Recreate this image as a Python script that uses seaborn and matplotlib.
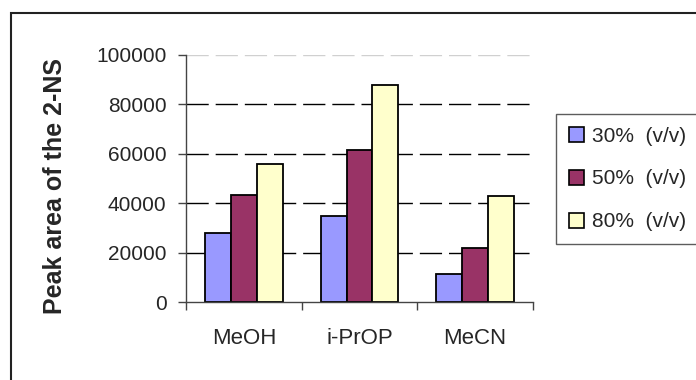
import matplotlib
matplotlib.use("Agg")
import matplotlib.pyplot as plt
import seaborn as sns
import pandas as pd
from matplotlib.patches import Rectangle, Patch

categories = ["MeOH", "i-PrOP", "MeCN"]
series_names = ["30%  (v/v)", "50%  (v/v)", "80%  (v/v)"]
values_30 = [28000, 35000, 11500]
values_50 = [43500, 61500, 21700]
values_80 = [56000, 88000, 43000]
colors = ["#9999FF", "#993366", "#FFFFCC"]
yticks = [0, 20000, 40000, 60000, 80000, 100000]
ytick_labels = ["0", "20000", "40000", "60000", "80000", "100000"]

rows = []
for name, vals in zip(series_names, [values_30, values_50, values_80]):
    for c, v in zip(categories, vals):
        rows.append({"Solvent": c, "Conc": name, "Area": v})
df = pd.DataFrame(rows)

sns.set_theme(style="white")
plt.rcParams["font.family"] = ["Liberation Sans", "DejaVu Sans"]

fig = plt.figure(figsize=(6.96, 3.80), dpi=100)
ax = fig.add_axes([186/696, 1-302/380, (533-186)/696, (302-55)/380])

sns.barplot(data=df, x="Solvent", y="Area", hue="Conc", order=categories,
            hue_order=series_names, palette=colors, width=0.67,
            edgecolor="black", linewidth=1.3, saturation=1, ax=ax,
            legend=False, errorbar=None)

ax.set_xlim(-0.5, 2.5)
ax.set_ylim(0, 100000)
for y in yticks[1:-1]:
    ax.axhline(y, color="black", linewidth=1.0, linestyle=(0, (16, 5)), zorder=0)
ax.axhline(100000, color="#d0d0d0", linewidth=1.0, linestyle=(0, (16, 5)), zorder=0)

ax.set_yticks(yticks)
ax.set_yticklabels(ytick_labels, fontsize=15)
ax.set_xticks(range(len(categories)))
ax.set_xticklabels(categories, fontsize=16)
ax.set_xticks([-0.5, 0.5, 1.5, 2.5], minor=True)
ax.tick_params(axis="x", which="major", length=0, pad=19)
ax.tick_params(axis="x", which="minor", length=6, width=1, color="#444444", direction="out", bottom=True)
ax.tick_params(axis="y", which="major", length=6, width=1, color="#444444", direction="out", left=True, pad=8)
ax.set_xlabel("")
ax.set_ylabel("Peak area of the 2-NS", fontsize=18, fontweight="bold")
ax.yaxis.set_label_coords(-0.343, 0.47)

for s in ["top", "right"]:
    ax.spines[s].set_visible(False)
for s in ["left", "bottom"]:
    ax.spines[s].set_color("#444444")
    ax.spines[s].set_linewidth(1.0)

handles = [Patch(facecolor=c, edgecolor="black", linewidth=1.2) for c in colors]
leg = fig.legend(handles, series_names, loc="upper left",
                 bbox_to_anchor=(556/696, 1-114/380), fontsize=15,
                 frameon=True, fancybox=False, edgecolor="#333333",
                 handlelength=0.75, handleheight=0.75, handletextpad=0.4,
                 labelspacing=1.15, borderpad=0.6, borderaxespad=0)
leg.get_frame().set_linewidth(1.0)

fig.patches.append(Rectangle((11/696, -0.05), 1.1, 1-13/380+0.05,
                             transform=fig.transFigure, fill=False,
                             edgecolor="#222222", linewidth=1.5))

fig.savefig("out.png", dpi=100, facecolor="white")
